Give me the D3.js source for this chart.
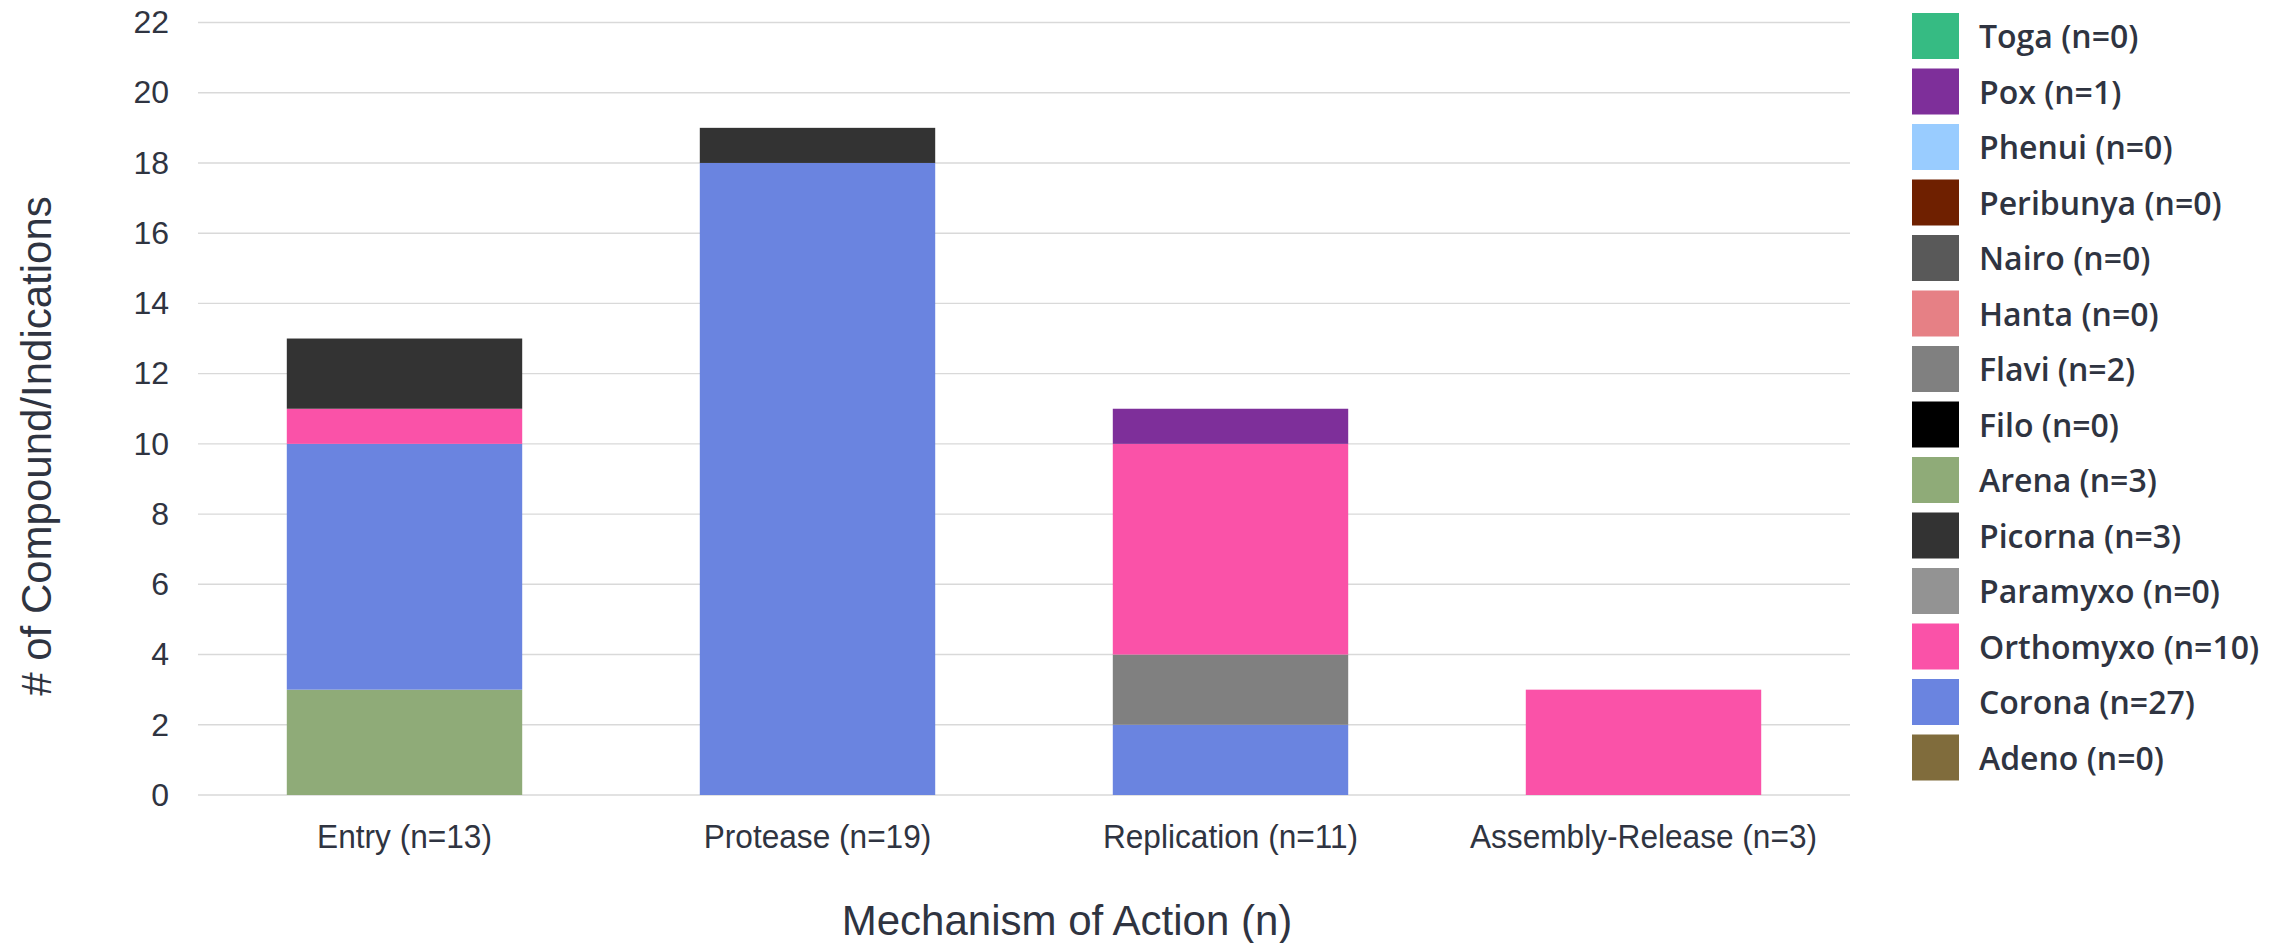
<!DOCTYPE html>
<html>
<head>
<meta charset="utf-8">
<script src="https://cdn.jsdelivr.net/npm/d3@7/dist/d3.min.js"></script>
<style>
  html, body { margin: 0; padding: 0; background: #ffffff; }
  svg { display: block; }
</style>
</head>
<body>
<svg id="chart" width="2288" height="943"></svg>
<script>
// Mechanisms of action shown along the x axis
const mechanisms = ["Entry", "Protease", "Replication", "Assembly-Release"];

// Counts per virus family for each mechanism (same order as mechanisms)
const adeno     = [0, 0, 0, 0];
const arena     = [3, 0, 0, 0];
const corona    = [7, 18, 2, 0];
const filo      = [0, 0, 0, 0];
const flavi     = [0, 0, 2, 0];
const hanta     = [0, 0, 0, 0];
const nairo     = [0, 0, 0, 0];
const orthomyxo = [1, 0, 6, 3];
const paramyxo  = [0, 0, 0, 0];
const peribunya = [0, 0, 0, 0];
const phenui    = [0, 0, 0, 0];
const picorna   = [2, 1, 0, 0];
const pox       = [0, 0, 1, 0];
const toga      = [0, 0, 0, 0];

// Y axis ticks
const yTicks = [0, 2, 4, 6, 8, 10, 12, 14, 16, 18, 20, 22];

// Family names in stacking order (bottom to top) and their colours
const families = ["Adeno", "Arena", "Corona", "Filo", "Flavi", "Hanta", "Nairo",
                  "Orthomyxo", "Paramyxo", "Peribunya", "Phenui", "Picorna", "Pox", "Toga"];
const familyValues = [adeno, arena, corona, filo, flavi, hanta, nairo,
                      orthomyxo, paramyxo, peribunya, phenui, picorna, pox, toga];
const familyColors = ["#806c3c", "#8fab78", "#6a84e0", "#000000", "#808080", "#e68085", "#595959",
                      "#fa52a8", "#939393", "#6f2000", "#99ccff", "#333333", "#7e2f9a", "#36bb83"];

// Order in which the legend lists the families (top to bottom)
const legendOrder = ["Toga", "Pox", "Phenui", "Peribunya", "Nairo", "Hanta", "Flavi",
                     "Filo", "Arena", "Picorna", "Paramyxo", "Orthomyxo", "Corona", "Adeno"];

const textColor = "#2f3441";
const axisFont = "'Liberation Sans', Arial, sans-serif";

// Build the row table for d3.stack
const rows = mechanisms.map((m, i) => {
  const r = { mechanism: m };
  families.forEach((f, k) => { r[f] = familyValues[k][i]; });
  r.total = d3.sum(families, f => r[f]);
  return r;
});
const familyTotal = new Map(families.map((f, k) => [f, d3.sum(familyValues[k])]));
const color = d3.scaleOrdinal().domain(families).range(familyColors);

const svg = d3.select("#chart");

const plot = { left: 198, right: 1850, top: 22.5, bottom: 795 };

const x = d3.scaleBand()
  .domain(mechanisms)
  .range([plot.left, plot.right])
  .paddingInner(0.43)
  .paddingOuter(0.215);

const y = d3.scaleLinear()
  .domain([0, 22])
  .range([plot.bottom, plot.top]);

// Horizontal gridlines
svg.append("g")
  .selectAll("line")
  .data(yTicks)
  .join("line")
  .attr("x1", plot.left)
  .attr("x2", plot.right)
  .attr("y1", d => y(d))
  .attr("y2", d => y(d))
  .attr("stroke", "#d9d9d9")
  .attr("stroke-width", 1.4);

// Stacked bars
const series = d3.stack().keys(families)(rows);
svg.append("g")
  .selectAll("g")
  .data(series)
  .join("g")
  .attr("fill", d => color(d.key))
  .selectAll("rect")
  .data(d => d.filter(s => s[1] > s[0]))
  .join("rect")
  .attr("x", d => x(d.data.mechanism))
  .attr("width", x.bandwidth())
  .attr("y", d => y(d[1]))
  .attr("height", d => y(d[0]) - y(d[1]));

// Y axis labels
const yAxis = svg.append("g")
  .attr("transform", `translate(${plot.left},0)`)
  .call(d3.axisLeft(y).tickValues(yTicks).tickSize(0).tickPadding(29));
yAxis.select(".domain").remove();
yAxis.selectAll("text")
  .attr("font-family", axisFont)
  .attr("font-size", 32)
  .attr("fill", textColor);

// X axis labels with per-mechanism totals
const totals = new Map(rows.map(r => [r.mechanism, r.total]));
const xAxis = svg.append("g")
  .attr("transform", `translate(0,${plot.bottom})`)
  .call(d3.axisBottom(x).tickSize(0).tickPadding(29)
    .tickFormat(m => `${m} (n=${totals.get(m)})`));
xAxis.select(".domain").remove();
xAxis.selectAll("text")
  .attr("font-family", axisFont)
  .attr("font-size", 34)
  .attr("transform", "scale(0.93,1)")
  .attr("fill", textColor);

// Axis titles
svg.append("text")
  .attr("x", 1067)
  .attr("y", 935)
  .attr("text-anchor", "middle")
  .attr("font-family", axisFont)
  .attr("font-size", 42)
  .attr("fill", textColor)
  .text("Mechanism of Action (n)");

svg.append("text")
  .attr("transform", "translate(51,446) rotate(-90)")
  .attr("text-anchor", "middle")
  .attr("font-family", axisFont)
  .attr("font-size", 42)
  .attr("fill", textColor)
  .text("# of Compound/Indications");

// Legend
const legend = svg.append("g")
  .selectAll("g")
  .data(legendOrder)
  .join("g")
  .attr("transform", (d, i) => `translate(1912,${13 + i * 55.5})`);

legend.append("rect")
  .attr("width", 47)
  .attr("height", 46)
  .attr("fill", d => color(d));

legend.append("text")
  .attr("x", 67)
  .attr("y", 35)
  .attr("font-family", "'Open Sans', sans-serif")
  .attr("font-weight", 600)
  .attr("font-size", 32)
  .attr("fill", textColor)
  .text(d => `${d} (n=${familyTotal.get(d)})`);
</script>
</body>
</html>
